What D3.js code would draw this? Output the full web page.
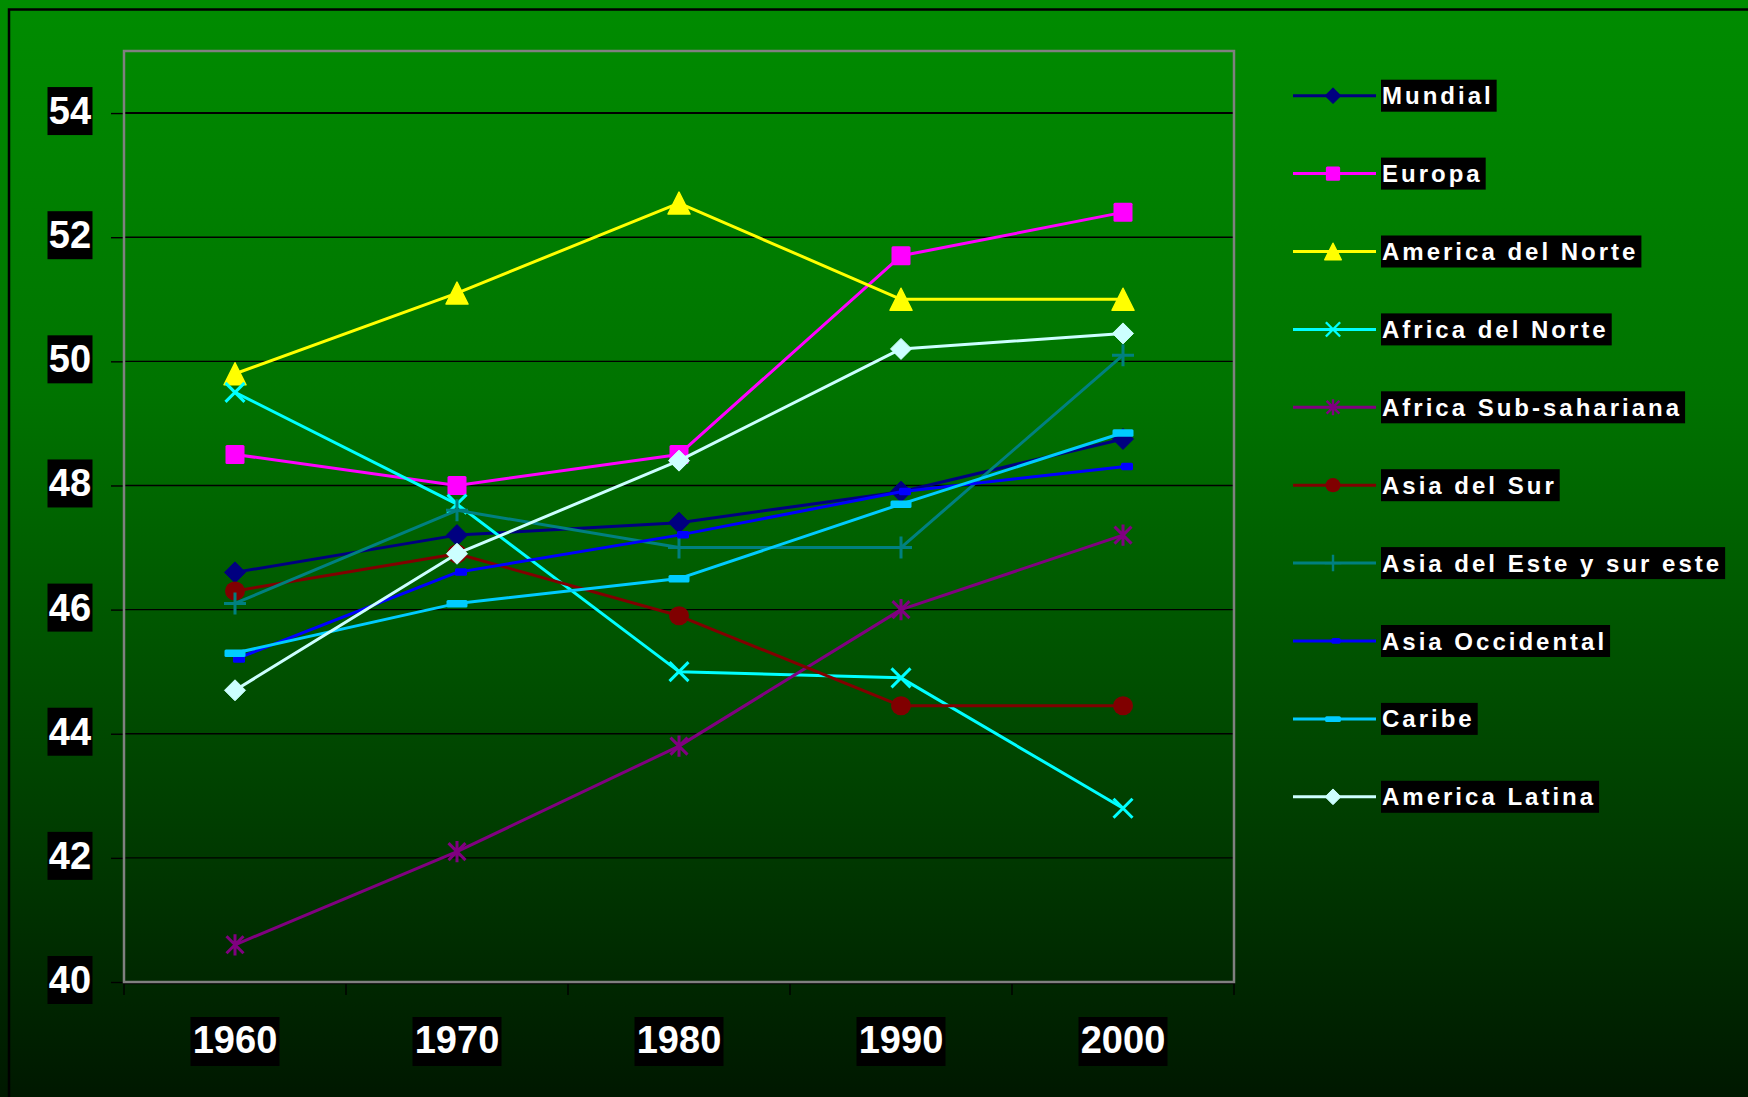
<!DOCTYPE html>
<html>
<head>
<meta charset="utf-8">
<script src="https://cdn.jsdelivr.net/npm/d3@7"></script>
<style>
  html, body { margin: 0; padding: 0; background: #004000; }
  svg { display: block; }
</style>
</head>
<body>
<svg id="chart" width="1748" height="1097"></svg>
<script>
// ---- data ----
const years = ["1960", "1970", "1980", "1990", "2000"];
const yTicks = [40, 42, 44, 46, 48, 50, 52, 54];
const seriesNames = [
  "Mundial", "Europa", "America del Norte", "Africa del Norte", "Africa Sub-sahariana",
  "Asia del Sur", "Asia del Este y sur este", "Asia Occidental", "Caribe", "America Latina"
];
const mundial        = [46.6, 47.2, 47.4, 47.9, 48.75];
const europa         = [48.5, 48.0, 48.5, 51.7, 52.4];
const americaNorte   = [49.8, 51.1, 52.55, 51.0, 51.0];
const africaNorte    = [49.5, 47.7, 45.0, 44.9, 42.8];
const africaSub      = [40.6, 42.1, 43.8, 46.0, 47.2];
const asiaSur        = [46.3, 46.9, 45.9, 44.45, 44.45];
const asiaEste       = [46.1, 47.6, 47.0, 47.0, 50.1];
const asiaOccidental = [45.2, 46.6, 47.2, 47.9, 48.3];
const caribe         = [45.3, 46.1, 46.5, 47.7, 48.85];
const americaLatina  = [44.7, 46.9, 48.4, 50.2, 50.45];
const seriesValues = [mundial, europa, americaNorte, africaNorte, africaSub,
  asiaSur, asiaEste, asiaOccidental, caribe, americaLatina];

// ---- styles ----
const colors = ["#000080", "#FF00FF", "#FFFF00", "#00FFFF", "#800080",
  "#800000", "#008080", "#0000FF", "#00CCFF", "#CCFFFF"];
const markers = ["diamond", "square", "triangle", "x", "asterisk",
  "circle", "plus", "dashRight", "bar", "diamond"];

const svg = d3.select("#chart");
const W = 1748, H = 1097;

// background gradient
const defs = svg.append("defs");
const grad = defs.append("linearGradient").attr("id", "bg")
  .attr("x1", 0).attr("y1", 0).attr("x2", 0).attr("y2", 1);
[[0, "rgb(0,140,0)"], [0.36, "rgb(0,115,0)"], [0.73, "rgb(0,64,0)"], [1, "rgb(0,24,0)"]]
  .forEach(([o, c]) => grad.append("stop").attr("offset", o).attr("stop-color", c));
svg.append("rect").attr("width", W).attr("height", H).attr("fill", "url(#bg)");

// outer chart border
svg.append("rect").attr("x", 9).attr("y", 9.5).attr("width", W + 20).attr("height", H + 20)
  .attr("fill", "none").attr("stroke", "#000").attr("stroke-width", 2.5);

const plot = { left: 124, right: 1234, top: 51, bottom: 982 };
const x = d3.scaleBand().domain(years).range([plot.left, plot.right]);
const y = d3.scaleLinear().domain([40, 55]).range([plot.bottom, plot.top]);

// gridlines
svg.append("g").selectAll("line").data(yTicks.filter(t => t > 40)).join("line")
  .attr("x1", plot.left).attr("x2", plot.right)
  .attr("y1", d => y(d)).attr("y2", d => y(d))
  .attr("stroke", "#000").attr("stroke-width", d => d === 54 ? 2 : 1.4);

// y axis ticks
const yAxis = d3.axisLeft(y).tickValues(yTicks).tickSize(13).tickFormat("");
const gy = svg.append("g").attr("transform", `translate(${plot.left},0)`).call(yAxis);
gy.select(".domain").remove();
gy.selectAll(".tick line").attr("stroke", "#000").attr("stroke-width", 1.4);

// x axis ticks at band boundaries
const xBounds = years.map(d => x(d)).concat([plot.right]);
svg.append("g").selectAll("line").data(xBounds).join("line")
  .attr("x1", d => d).attr("x2", d => d).attr("y1", plot.bottom).attr("y2", plot.bottom + 13)
  .attr("stroke", "#000").attr("stroke-width", 1.4);

// plot border
svg.append("line").attr("x1", plot.left - 1).attr("x2", plot.right + 1)
  .attr("y1", plot.bottom + 1.5).attr("y2", plot.bottom + 1.5).attr("stroke", "#000").attr("stroke-width", 1.5);
svg.append("rect").attr("x", plot.left).attr("y", plot.top)
  .attr("width", plot.right - plot.left).attr("height", plot.bottom - plot.top)
  .attr("fill", "none").attr("stroke", "#808080").attr("stroke-width", 2.5);

const fontFam = "'Liberation Sans', Arial, Helvetica, sans-serif";

// y tick labels
const yl = svg.append("g").selectAll("g").data(yTicks).join("g")
  .attr("transform", d => `translate(70,${y(d)})`);
yl.append("rect").attr("x", -22.5).attr("y", -26).attr("width", 45).attr("height", 48).attr("fill", "#000");
yl.append("text").attr("text-anchor", "middle").attr("y", 11)
  .attr("font-family", fontFam).attr("font-weight", "bold").attr("font-size", 38)
  .attr("fill", "#fff").text(d => d);

// x tick labels
const xl = svg.append("g").selectAll("g").data(years).join("g")
  .attr("transform", d => `translate(${x(d) + x.bandwidth() / 2},1041)`);
xl.append("rect").attr("x", -44.5).attr("y", -24).attr("width", 89).attr("height", 49).attr("fill", "#000");
xl.append("text").attr("text-anchor", "middle").attr("y", 12)
  .attr("font-family", fontFam).attr("font-weight", "bold").attr("font-size", 38)
  .attr("fill", "#fff").text(d => d);

// marker drawing
function drawMarker(g, type, color, k) {
  const sw = 3 * Math.max(k, 0.8);
  switch (type) {
    case "diamond": {
      const s = 10.5 * k;
      g.append("path").attr("d", `M0,${-s}L${s},0L0,${s}L${-s},0Z`).attr("fill", color)
        .attr("stroke", color).attr("stroke-width", 1).attr("stroke-linejoin", "round");
      break;
    }
    case "square": {
      const s = 9.5 * k;
      g.append("rect").attr("x", -s).attr("y", -s).attr("width", 2 * s).attr("height", 2 * s)
        .attr("rx", 1.5).attr("fill", color);
      break;
    }
    case "triangle": {
      const s = 11 * k;
      g.append("path").attr("d", `M0,${-s}L${s},${s}L${-s},${s}Z`).attr("fill", color)
        .attr("stroke", color).attr("stroke-width", 1.5).attr("stroke-linejoin", "round");
      break;
    }
    case "circle":
      g.append("ellipse").attr("rx", 10 * k).attr("ry", 9.5 * k).attr("fill", color);
      break;
    case "x": {
      const s = 9.5 * k;
      g.append("path").attr("d", `M${-s},${-s}L${s},${s}M${-s},${s}L${s},${-s}`)
        .attr("stroke", color).attr("stroke-width", sw).attr("fill", "none");
      break;
    }
    case "asterisk": {
      const s = 8.5 * k;
      g.append("path").attr("d", `M${-s},${-s}L${s},${s}M${-s},${s}L${s},${-s}M0,${-s * 1.25}L0,${s * 1.25}`)
        .attr("stroke", color).attr("stroke-width", sw).attr("fill", "none");
      break;
    }
    case "plus": {
      const s = 11 * k;
      g.append("path").attr("d", `M${-s},0L${s},0M0,${-s}L0,${s}`)
        .attr("stroke", color).attr("stroke-width", sw).attr("fill", "none");
      break;
    }
    case "dashRight":
      g.append("rect").attr("x", -2 * k).attr("y", -4 * k).attr("width", 12 * k).attr("height", 7.5 * k)
        .attr("rx", 1.5).attr("fill", color);
      break;
    case "bar":
      g.append("rect").attr("x", -10.5 * k).attr("y", -3.5 * k).attr("width", 21 * k).attr("height", 7.5 * k)
        .attr("rx", 1.5).attr("fill", color);
      break;
  }
}

// series
const line = d3.line().x((d, i) => x(years[i]) + x.bandwidth() / 2).y(d => y(d));
seriesNames.forEach((name, si) => {
  const vals = seriesValues[si];
  const g = svg.append("g");
  g.append("path").attr("d", line(vals)).attr("fill", "none")
    .attr("stroke", colors[si]).attr("stroke-width", 3).attr("stroke-linejoin", "round");
  vals.forEach((v, i) => {
    const mg = g.append("g").attr("transform", `translate(${x(years[i]) + x.bandwidth() / 2},${y(v)})`);
    drawMarker(mg, markers[si], colors[si], 1);
  });
});

// legend
const legTop = 95.7, legStep = 77.9;
seriesNames.forEach((name, si) => {
  const ly = legTop + si * legStep;
  const g = svg.append("g").attr("transform", `translate(0,${ly})`);
  g.append("line").attr("x1", 1293).attr("x2", 1376).attr("y1", 0).attr("y2", 0)
    .attr("stroke", colors[si]).attr("stroke-width", 3);
  const mg = g.append("g").attr("transform", "translate(1333,0)");
  drawMarker(mg, markers[si], colors[si], 0.75);
  const box = g.append("rect").attr("x", 1381).attr("y", -16).attr("height", 32).attr("fill", "#000");
  const t = g.append("text").attr("x", 1382).attr("y", 8.5)
    .attr("font-family", fontFam).attr("font-weight", "bold").attr("font-size", 24)
    .attr("letter-spacing", 3.0).attr("fill", "#fff").text(name);
  const w = t.node().getComputedTextLength();
  box.attr("width", w + 4);
});
</script>
</body>
</html>
